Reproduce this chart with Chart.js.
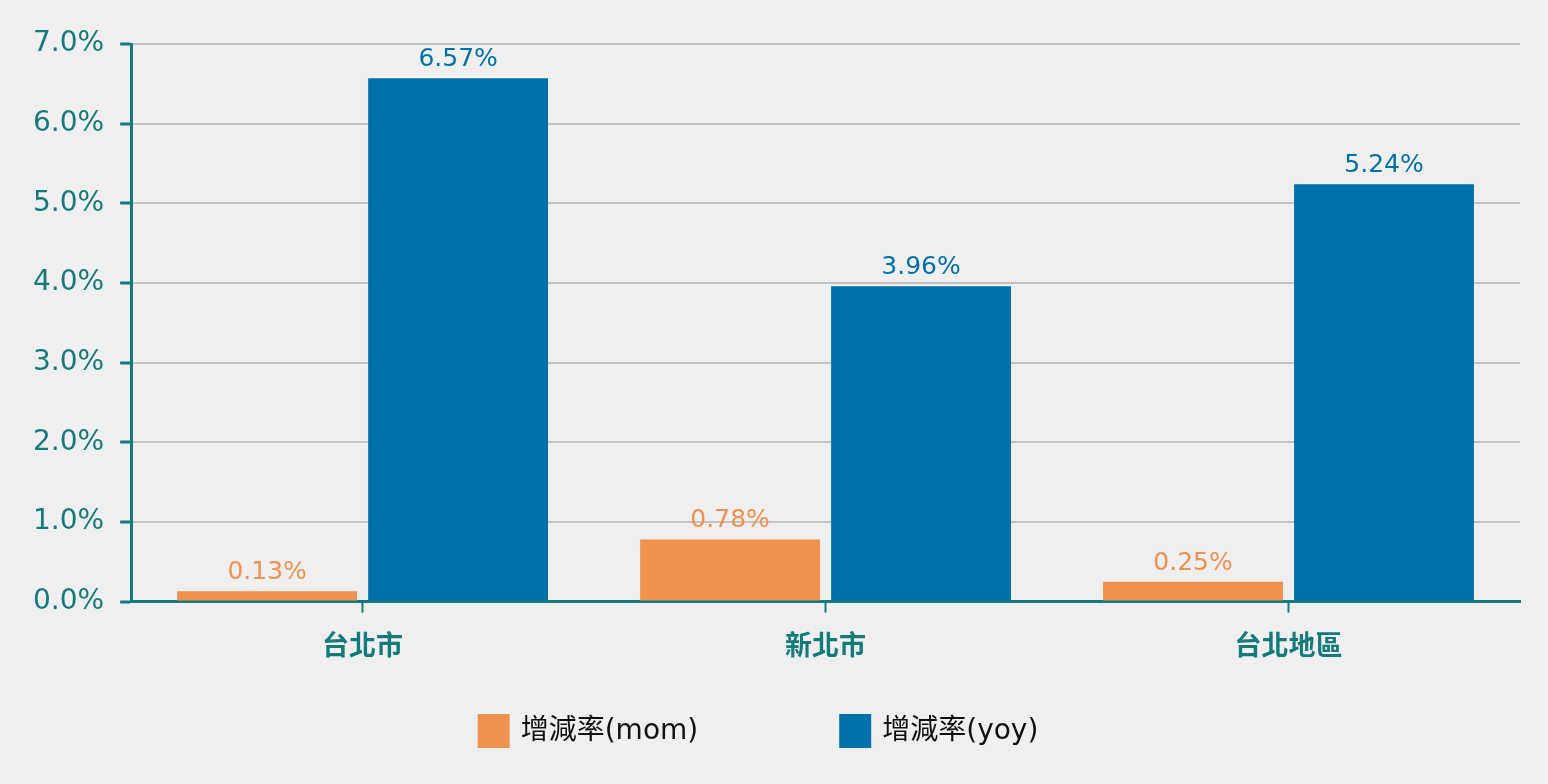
<!DOCTYPE html>
<html>
<head>
<meta charset="utf-8">
<script src="https://cdn.jsdelivr.net/npm/chart.js@4/dist/chart.umd.min.js"></script>
<style>
  html, body { margin: 0; padding: 0; background: #efefef; }
  #wrap { width: 1548px; height: 784px; }
</style>
</head>
<body>
<div id="wrap"><canvas id="c"></canvas></div>
<script>
// 資料
var categories = ['台北市', '新北市', '台北地區'];
var momValues = [0.13, 0.78, 0.25];
var yoyValues = [6.57, 3.96, 5.24];
var seriesNames = ['增減率(mom)', '增減率(yoy)'];
var yTicks = [0, 1, 2, 3, 4, 5, 6, 7];

var teal = '#157a7a';
var orange = '#f0924f';
var blue = '#0072a9';

// 長條上方的數值
var valueLabels = {
    id: 'valueLabels',
    afterDatasetsDraw: function (chart) {
        var ctx = chart.ctx;
        ctx.save();
        ctx.font = '25px "DejaVu Sans"';
        ctx.textAlign = 'center';
        ctx.textBaseline = 'bottom';
        chart.data.datasets.forEach(function (ds, i) {
            var meta = chart.getDatasetMeta(i);
            ctx.fillStyle = ds.backgroundColor;
            meta.data.forEach(function (bar, j) {
                ctx.fillText(ds.data[j].toFixed(2) + '%', bar.x, bar.y - 6);
            });
        });
        ctx.restore();
    }
};

// 自訂圖例 (間距比內建的大)
var bottomLegend = {
    id: 'bottomLegend',
    afterDraw: function (chart) {
        var ctx = chart.ctx;
        var boxW = 32, boxH = 34, gap = 11, spacing = 141;
        ctx.save();
        ctx.font = '28px "DejaVu Sans", "Noto Sans CJK TC"';
        ctx.textBaseline = 'middle';
        var widths = chart.data.datasets.map(function (ds) {
            return boxW + gap + ctx.measureText(ds.label).width;
        });
        var total = widths[0] + spacing + widths[1];
        var x = chart.width / 2 - total / 2 - 16;
        var y = 731;
        chart.data.datasets.forEach(function (ds, i) {
            ctx.fillStyle = ds.backgroundColor;
            ctx.fillRect(x, y - boxH / 2, boxW, boxH);
            ctx.fillStyle = '#111';
            ctx.fillText(ds.label, x + boxW + gap, y + 1);
            x += widths[i] + spacing;
        });
        ctx.restore();
    }
};

var ctx = document.getElementById('c').getContext('2d');
var c = new Chart(ctx, {
    type: 'bar',
    data: {
        labels: categories,
        datasets: [
            { label: seriesNames[0], data: momValues, backgroundColor: orange },
            { label: seriesNames[1], data: yoyValues, backgroundColor: blue }
        ]
    },
    options: {
        responsive: true,
        maintainAspectRatio: false,
        animation: false,
        layout: { padding: { top: 44, right: 28, left: 17, bottom: 107 } },
        datasets: { bar: { categoryPercentage: 0.825, barPercentage: 0.942 } },
        plugins: {
            legend: { display: false },
            tooltip: { enabled: false }
        },
        scales: {
            x: {
                border: { color: teal, width: 3 },
                grid: {
                    offset: false,
                    drawOnChartArea: false,
                    tickLength: 11,
                    tickColor: teal,
                    tickWidth: 2
                },
                ticks: {
                    color: teal,
                    padding: 16,
                    font: { family: '"Noto Sans CJK TC"', size: 27, weight: 'bold' }
                }
            },
            y: {
                min: 0,
                max: 7,
                afterBuildTicks: function (axis) {
                    axis.ticks = yTicks.map(function (v) { return { value: v }; });
                },
                border: { color: teal, width: 3 },
                grid: {
                    color: '#c2c2c2',
                    lineWidth: 2,
                    tickLength: 11,
                    tickColor: teal,
                    tickWidth: 3
                },
                ticks: {
                    color: teal,
                    padding: 16,
                    font: { family: '"DejaVu Sans"', size: 28 },
                    callback: function (v) { return v.toFixed(1) + '%'; }
                }
            }
        }
    },
    plugins: [valueLabels, bottomLegend]
});
</script>
</body>
</html>
